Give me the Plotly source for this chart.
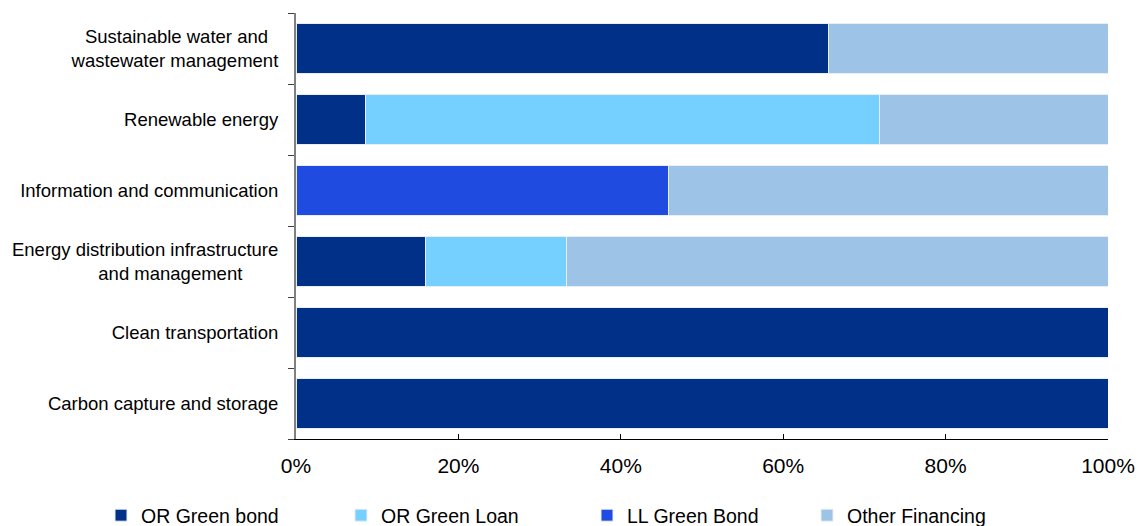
import plotly.graph_objects as go

categories = [
    "Sustainable water and wastewater management",
    "Renewable energy",
    "Information and communication",
    "Energy distribution infrastructure and management",
    "Clean transportation",
    "Carbon capture and storage",
]
category_labels = [
    "Sustainable water and\u00a0\u00a0<br>wastewater management",
    "Renewable energy",
    "Information and communication",
    "Energy distribution infrastructure<br>and management" + "\u00a0" * 7,
    "Clean transportation",
    "Carbon capture and storage",
]
or_green_bond = [65.6, 8.5, 0.0, 16.0, 100.0, 100.0]
or_green_loan = [0.0, 63.4, 0.0, 17.3, 0.0, 0.0]
ll_green_bond = [0.0, 0.0, 45.9, 0.0, 0.0, 0.0]
other_financing = [34.4, 28.1, 54.1, 66.7, 0.0, 0.0]

series = [
    ("OR Green bond", or_green_bond, "#003087"),
    ("OR Green Loan", or_green_loan, "#75D0FF"),
    ("LL Green Bond", ll_green_bond, "#1F4BE0"),
    ("Other Financing", other_financing, "#9DC3E6"),
]
legend_text_left_px = [137, 377, 623, 843]

fig = go.Figure()
legend_ids = ["legend", "legend2", "legend3", "legend4"]
for (name, vals, color), lid in zip(series, legend_ids):
    fig.add_trace(go.Bar(
        y=categories, x=vals, name=name, orientation="h", legend=lid,
        marker=dict(color=color, line=dict(color="#E8EEF6", width=1)),
    ))

W, H = 1138, 526
legend_layout = {}
for lid, tx in zip(legend_ids, legend_text_left_px):
    legend_layout[lid] = dict(
        orientation="h", xref="container", x=(tx - 36) / W, xanchor="left",
        yref="container", y=1 - 496 / H, yanchor="top",
        font=dict(size=19.5), itemwidth=30, bgcolor="rgba(0,0,0,0)",
        borderwidth=0,
    )

fig.update_layout(
    barmode="stack",
    bargap=0.3,
    width=W, height=H,
    margin=dict(l=296, r=30, t=13, b=87, autoexpand=False),
    plot_bgcolor="white", paper_bgcolor="white",
    font=dict(family="Liberation Sans, Arial, sans-serif", color="#000000"),
    showlegend=True,
    **legend_layout,
)
fig.update_xaxes(
    range=[0, 100], tickvals=[0, 20, 40, 60, 80, 100],
    ticktext=["0%", "20%", "40%", "60%", "80%", "100%"],
    showgrid=False, zeroline=False,
    showline=True, linecolor="#000000", linewidth=1,
    ticks="inside", ticklen=5, tickcolor="#000000",
    tickfont=dict(size=21), fixedrange=True, tickangle=0,
    ticklabelstandoff=8,
)
fig.update_yaxes(
    autorange="reversed", showgrid=False,
    tickmode="array", tickvals=categories, ticktext=category_labels,
    showline=True, linecolor="#808080", linewidth=2,
    ticks="outside", ticklen=6, tickcolor="#404040", tickson="boundaries",
    tickfont=dict(size=18.5), ticklabelstandoff=12,
)
fig.write_html("out.html")
